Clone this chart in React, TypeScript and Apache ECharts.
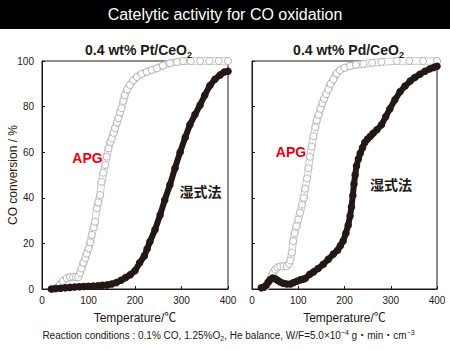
import React, { useEffect, useRef } from 'react';
import * as echarts from 'echarts';

// Temperature (°C), CO conversion (%)
const ptApg: number[][] = [
  [25, 0], [32, 0.5], [38, 1.8], [45, 3.5], [53, 4.7], [60, 5.2], [67, 5.4], [73, 5.2], [78, 5.2],
  [82, 7], [85, 9], [89, 11.5], [93, 13.5], [96, 15.5], [100, 17.8], [104, 20.5], [107, 23.7],
  [111, 27], [114, 29.5], [118, 35.4], [121, 38], [125, 41.2], [128, 47], [132, 51], [136, 54.4],
  [139, 58], [143, 61.7], [147, 64.5], [150, 66], [154, 68.5], [157, 70.5], [161, 73], [164, 74.9],
  [168, 77.5], [171, 79.3], [175, 82.5], [178, 85], [183, 87.5], [189, 89.5], [196, 91.5], [204, 93],
  [214, 94.3], [225, 95.3], [236, 96.1], [247, 96.8], [260, 98], [275, 99], [290, 99.6], [304, 100],
  [320, 100], [340, 100], [360, 100], [380, 100], [400, 100],
];
const ptWet: number[][] = [
  [20, 0], [30, 0.2], [40, 0.3], [50, 0.5], [60, 0.7], [70, 0.9], [80, 1], [90, 1.1], [100, 1.2],
  [110, 1.3], [120, 1.4], [130, 1.6], [140, 1.8], [150, 2.2], [160, 2.8], [170, 3.8], [180, 5],
  [190, 6.3], [200, 8], [210, 11.5], [220, 14.5], [226, 17.5], [232, 20.7], [243, 26], [254, 32.5],
  [264, 39], [275, 45.6], [286, 53], [297, 60], [308, 66.5], [318, 72], [329, 76.5], [340, 80.7],
  [350, 85], [361, 89.2], [372, 92], [383, 93.9], [392, 95.2], [400, 95.5],
];
const pdApg: number[][] = [
  [30, 1], [35, 3], [40, 5], [45, 7], [50, 8.5], [55, 9.5], [61, 9.9], [68, 10], [75, 10], [80, 11],
  [83, 12.5], [86, 16], [89, 21], [92, 24.5], [96, 27.5], [100, 30.5], [104, 33.5], [108, 37],
  [112, 40], [115, 44], [119, 48.5], [122, 53], [125, 58], [129, 62.5], [133, 67], [137, 71],
  [140, 74], [144, 76.5], [148, 79], [152, 81.5], [156, 83.5], [160, 85.5], [165, 87.5], [170, 90],
  [176, 92], [183, 94.5], [190, 96], [200, 97], [212, 97.8], [225, 98.3], [241, 98.7], [260, 99.2],
  [280, 99.6], [313, 100], [340, 100], [370, 100], [400, 100],
];
const pdWet: number[][] = [
  [20, 0.5], [25, 0.8], [30, 1.5], [35, 3], [40, 4.2], [45, 4.8], [50, 4.5], [55, 3.8], [60, 3.2],
  [67, 2.5], [75, 2.2], [83, 2.2], [90, 2.8], [97, 3.4], [104, 4], [110, 4.3], [115, 4.6], [125, 6.5],
  [133, 7.5], [143, 9], [154, 10.8], [165, 13], [176, 15.3], [185, 17], [191, 19], [197, 21],
  [203, 24.5], [208, 28], [212, 32], [215, 36], [218, 41], [220.5, 46], [223, 50], [226, 54],
  [230, 57], [234, 59.5], [239, 62], [244, 64.3], [250, 65.8], [256, 67], [262, 68.3], [270, 69.8],
  [280, 72], [289, 75.5], [298, 79], [309, 83], [320, 86.5], [331, 89], [342, 91.2], [352, 92.8],
  [363, 94.2], [374, 95.5], [385, 96.6], [393, 97.2], [400, 97.7],
];

const panelTitles = ['0.4 wt% Pt/CeO', '0.4 wt% Pd/CeO'];
const mainTitle = 'Catelytic activity for CO oxidation';
const xName = 'Temperature/℃';
const yName = 'CO conversion / %';
const footnote =
  '{a|Reaction conditions : 0.1% CO, 1.25%O}{sub|2}{a|, He balance, W/F=5.0×10}{sup|−4}{a| g・min・cm}{sup|−3}';

const FONT = '"Liberation Sans", Arial, "Noto Sans CJK JP", sans-serif';
const CJK = '"Noto Sans CJK JP", "Liberation Sans", sans-serif';
const INK = '#231815';
const RED = '#e60012';

export default function App() {
  const ref = useRef<HTMLDivElement>(null);
  useEffect(() => {
    if (!ref.current) return;
    const chart = echarts.init(ref.current, undefined, { renderer: 'svg' });
    const grids = [
      { left: 42, top: 61, width: 186, height: 228 },
      { left: 252, top: 61, width: 185, height: 228 },
    ];
    const xAxis = grids.map((_, i) => ({
      type: 'value', gridIndex: i, min: 0, max: 400, interval: 100,
      name: xName, nameLocation: 'middle', nameGap: 23, nameMoveOverlap: false,
      nameTextStyle: { fontFamily: FONT, fontSize: 12, color: INK },
      axisLine: { lineStyle: { color: INK, width: 1 } },
      axisTick: { inside: true, length: 3, lineStyle: { color: INK } },
      axisLabel: { fontFamily: FONT, fontSize: 10, color: INK, margin: 6 },
      splitLine: { show: false },
    }));
    const yAxis = grids.map((_, i) => ({
      type: 'value', gridIndex: i, min: 0, max: 100, interval: 20,
      name: i === 0 ? yName : '', nameLocation: 'middle', nameGap: 23, nameMoveOverlap: false,
      nameTextStyle: { fontFamily: FONT, fontSize: 12, color: INK },
      axisLine: { lineStyle: { color: INK, width: 1 } },
      axisTick: { inside: true, length: 3, lineStyle: { color: INK } },
      axisLabel: { show: i === 0, fontFamily: FONT, fontSize: 10, color: INK, margin: 8 },
      splitLine: { show: false },
    }));
    const series: any[] = [];
    [[ptApg, ptWet], [pdApg, pdWet]].forEach(([apg, wet], i) => {
      series.push({
        type: 'line', xAxisIndex: i, yAxisIndex: i, data: apg, showSymbol: false, clip: false,
        lineStyle: { color: '#c6c6c6', width: 7.5, cap: 'round', join: 'round' }, z: 2, silent: true,
      });
      series.push({
        type: 'line', xAxisIndex: i, yAxisIndex: i, data: apg, symbol: 'circle', symbolSize: 7,
        showAllSymbol: true, clip: false,
        lineStyle: { color: '#ffffff', width: 5.5, cap: 'round', join: 'round' },
        itemStyle: { color: '#ffffff', borderColor: '#b4b4b4', borderWidth: 1 }, z: 3,
      });
      series.push({
        type: 'line', xAxisIndex: i, yAxisIndex: i, data: wet, symbol: 'circle', symbolSize: 7.5,
        showAllSymbol: true, clip: false,
        lineStyle: { color: INK, width: 6, cap: 'round', join: 'round' },
        itemStyle: { color: INK }, z: 4,
      });
    });
    const subTitle = (text: string, x: number) => ({
      type: 'text', x, y: 50, z: 10,
      style: {
        text: `{a|${text}}{b|2}`,
        align: 'center', verticalAlign: 'middle', fill: INK,
        rich: {
          a: { fontFamily: FONT, fontSize: 14, fontWeight: 'bold', fill: INK },
          b: { fontFamily: FONT, fontSize: 9, fontWeight: 'bold', fill: INK, lineHeight: 19, verticalAlign: 'bottom' },
        },
      },
    });
    const label = (text: string, x: number, y: number, color: string, font: string) => ({
      type: 'text', x, y, z: 10,
      style: { text, align: 'center', verticalAlign: 'middle', fill: color, fontFamily: font, fontSize: 14, fontWeight: 'bold' },
    });
    chart.setOption({
      animation: false,
      backgroundColor: '#ffffff',
      grid: grids.map((g) => ({ ...g, show: true, borderColor: INK, borderWidth: 1, backgroundColor: 'transparent' })),
      xAxis, yAxis, series,
      graphic: [
        { type: 'rect', shape: { x: 0, y: 0, width: 450, height: 29 }, style: { fill: '#000000' }, z: 10 },
        { type: 'text', x: 225, y: 14.5, z: 11, style: { text: mainTitle, fill: '#ffffff', fontFamily: FONT, fontSize: 16, align: 'center', verticalAlign: 'middle' } },
        subTitle(panelTitles[0], 138.5),
        subTitle(panelTitles[1], 348.5),
        label('APG', 87.5, 157.5, RED, FONT),
        label('APG', 291, 152, RED, FONT),
        label('湿式法', 200.5, 190.5, INK, CJK),
        label('湿式法', 391, 184, INK, CJK),
        {
          type: 'text', x: 228.5, y: 335, z: 10,
          style: {
            text: footnote, fill: INK, align: 'center', verticalAlign: 'middle',
            rich: {
              a: { fontFamily: FONT, fontSize: 10, lineHeight: 13, fill: INK },
              sub: { fontFamily: FONT, fontSize: 7, lineHeight: 13, verticalAlign: 'bottom', fill: INK },
              sup: { fontFamily: FONT, fontSize: 7, lineHeight: 13, verticalAlign: 'top', fill: INK },
            },
          },
        },
      ],
    });
    return () => chart.dispose();
  }, []);
  return <div ref={ref} style={{ position: 'fixed', left: 0, top: 0, width: 450, height: 350, background: '#fff' }} />;
}
